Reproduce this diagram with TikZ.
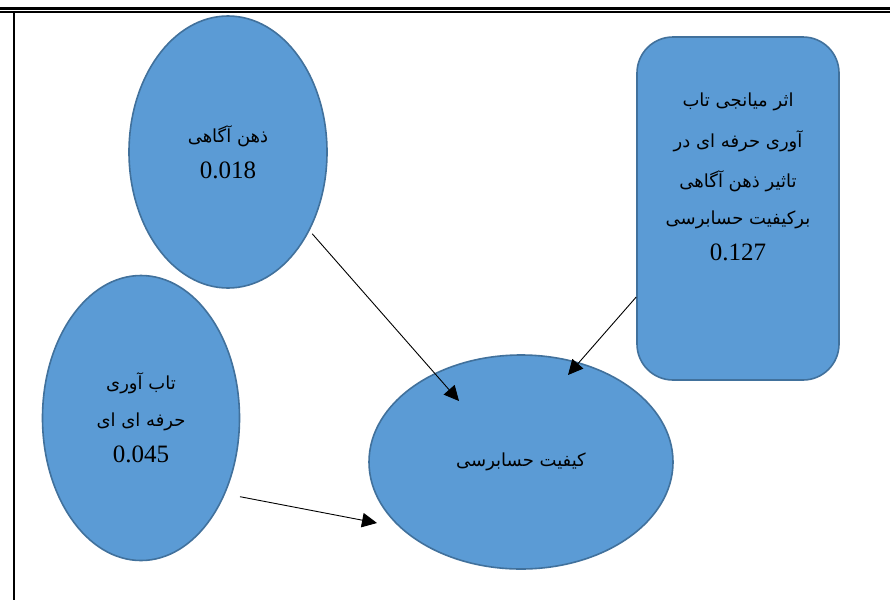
\documentclass[tikz,border=0pt]{standalone}
\usepackage{fontspec}
\setmainfont{Liberation Serif}
\newfontfamily\fafont[Script=Arabic]{DejaVu Sans}
\TeXXeTstate=1
\usetikzlibrary{shapes.geometric,arrows.meta,calc}
\definecolor{fillblue}{HTML}{5B9BD5}
\definecolor{edgeblue}{HTML}{41719C}
\newcommand{\rtl}[1]{{\fafont\fontsize{18}{22}\selectfont\beginR #1\endR}}
\newcommand{\numtxt}[1]{{\fontsize{25}{28}\selectfont #1}}
\begin{document}
\begin{tikzpicture}[x=1pt,y=-1pt,
  blob/.style={ellipse, draw=edgeblue, fill=fillblue, line width=1.6pt, inner sep=0pt, align=center, text=black},
  box/.style={rectangle, rounded corners=36pt, draw=edgeblue, fill=fillblue, line width=1.6pt, inner sep=0pt},
  txt/.style={align=center, inner sep=0pt, text=black},
  arr/.style={-{Triangle[length=15pt,width=14.5pt]}, line width=0.9pt, black},
  frame/.style={black}]
\useasboundingbox (0,0) rectangle (890,600);
\fill[white] (0,0) rectangle (890,600);
% page frame
\draw[frame, line width=2.5pt] (0,8.5) -- (890,8.5);
\draw[frame, line width=1.3pt] (0,12) -- (890,12);
\draw[frame, line width=2pt] (13.5,12) -- (13.5,600);
% shapes
\node[blob, minimum width=198pt, minimum height=272pt] (e1) at (228,152)
  {\rtl{ذهن آگاهی}\\[14pt]\numtxt{0.018}};
\node[blob, minimum width=197pt, minimum height=285pt] (e2) at (141,418)
  {\rtl{تاب آوری}\\[18pt]\rtl{حرفه ای ای}\\[14pt]\numtxt{0.045}};
\node[blob, minimum width=304pt, minimum height=214pt] (e3) at (521,462)
  {\rtl{کیفیت حسابرسی}};
\node[box, minimum width=202pt, minimum height=343pt] (r) at (738,208.5) {};
\node[txt] (rt) at (738,177)
  {\rtl{اثر میانجی تاب}\\[18pt]\rtl{آوری حرفه ای در}\\[18pt]\rtl{تاثیر ذهن آگاهی}\\[18pt]\rtl{برکیفیت حسابرسی}\\[14pt]\numtxt{0.127}};
% arrow tips
\coordinate (t1) at (459,401);
\coordinate (t2) at (568,375);
\coordinate (t3) at (377,523);
% connectors
\draw[arr, shorten <=4pt] (e1.-44) -- (t1);
\draw[arr] (r.221.8) -- (t2);
\draw[arr, shorten <=15pt] (e2.-42) -- (t3);
\end{tikzpicture}
\end{document}
